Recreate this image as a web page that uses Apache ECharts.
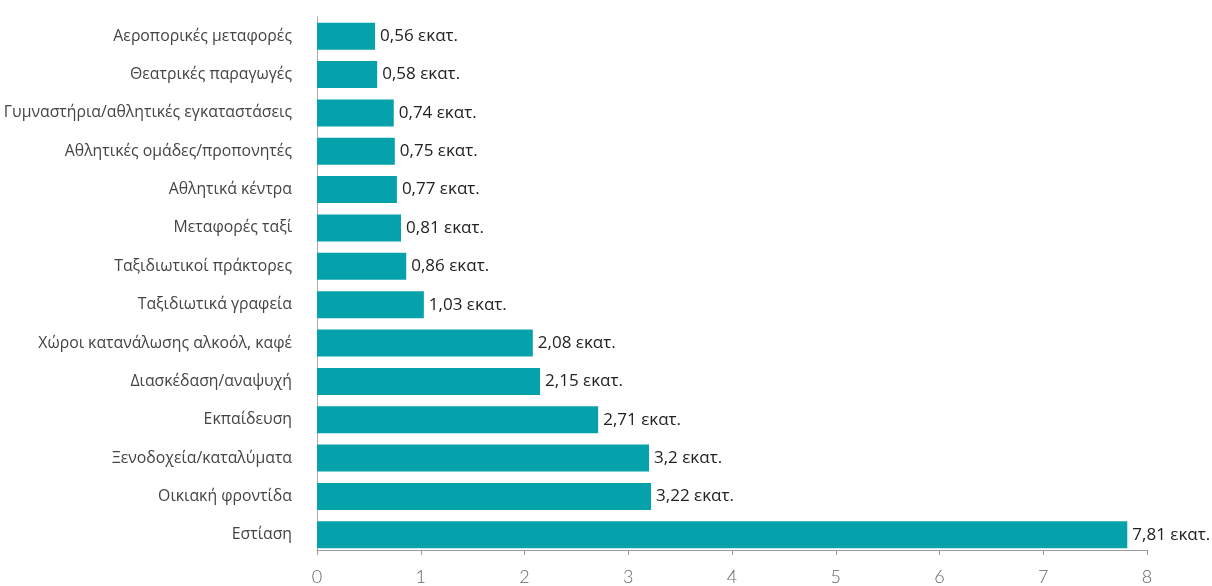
<!DOCTYPE html>
<html><head><meta charset="utf-8">
<script src="https://cdn.jsdelivr.net/npm/echarts@6/dist/echarts.min.js"></script>
<style>html,body{margin:0;padding:0;background:#fff}#c{width:1212px;height:586px}</style>
</head><body><div id="c"></div>
<script>
const categories = ["Εστίαση","Οικιακή φροντίδα","Ξενοδοχεία/καταλύματα","Εκπαίδευση","Διασκέδαση/αναψυχή","Χώροι κατανάλωσης αλκοόλ, καφέ","Ταξιδιωτικά γραφεία","Ταξιδιωτικοί πράκτορες","Μεταφορές ταξί","Αθλητικά κέντρα","Αθλητικές ομάδες/προπονητές","Γυμναστήρια/αθλητικές εγκαταστάσεις","Θεατρικές παραγωγές","Αεροπορικές μεταφορές"];
const values = [7.81,3.22,3.2,2.71,2.15,2.08,1.03,0.86,0.81,0.77,0.75,0.74,0.58,0.56];
const labels = ["7,81 εκατ.","3,22 εκατ.","3,2 εκατ.","2,71 εκατ.","2,15 εκατ.","2,08 εκατ.","1,03 εκατ.","0,86 εκατ.","0,81 εκατ.","0,77 εκατ.","0,75 εκατ.","0,74 εκατ.","0,58 εκατ.","0,56 εκατ."];
const chart = echarts.init(document.getElementById('c'), null, {renderer:'canvas'});
chart.setOption({
  animation:false,
  grid:{left:317, right:65, top:17, bottom:32, containLabel:false},
  xAxis:{type:'value', min:0, max:8, interval:1, offset:-4,
    axisLine:{show:true, lineStyle:{color:'#9a9a9a'}},
    axisTick:{show:true, length:5, lineStyle:{color:'#9a9a9a'}},
    splitLine:{show:false},
    axisLabel:{color:'#666', fontSize:18, fontFamily:'Lato', fontWeight:300, margin:18}
  },
  yAxis:{type:'category', data:categories,
    axisLine:{show:true, lineStyle:{color:'#aaa'}},
    axisTick:{show:false},
    axisLabel:{color:'#444', fontSize:15.8, fontFamily:'Open Sans', margin:25}
  },
  series:[{type:'bar', data:values, barWidth:27,
    itemStyle:{color:'#06a2ab'},
    label:{show:true, position:'right', distance:5, color:'#222', fontSize:17, fontFamily:'Open Sans',
      formatter:p=>labels[p.dataIndex]}
  }]
});
</script></body></html>
